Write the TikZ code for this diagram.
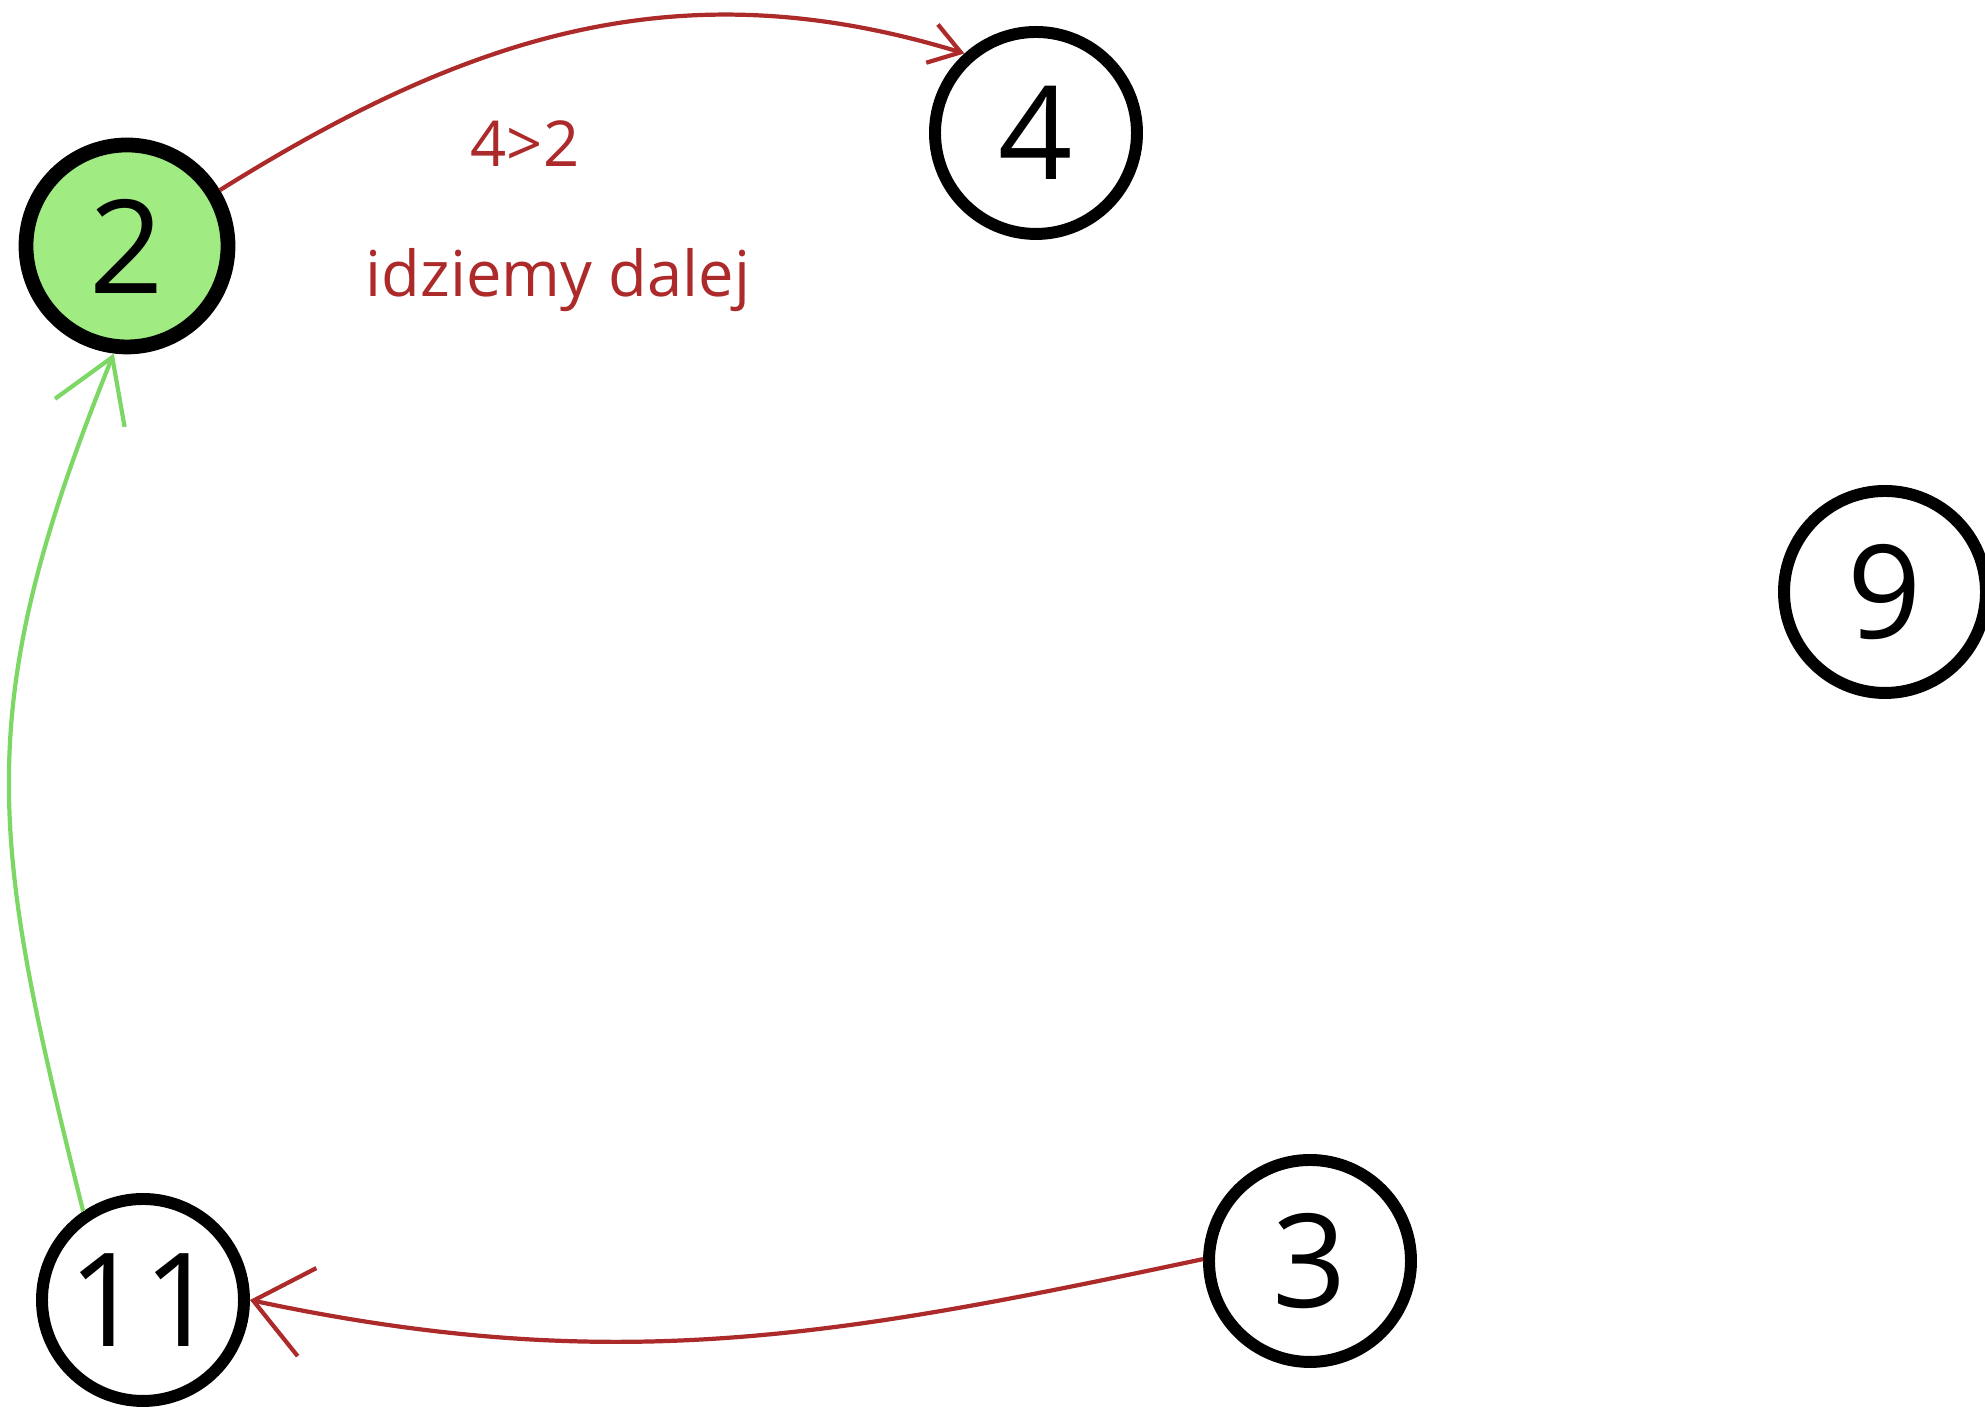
\documentclass[tikz,border=0pt]{standalone}
\usepackage{fontspec}
\setsansfont{Open Sans}
\usetikzlibrary{arrows.meta}
\definecolor{edgered}{RGB}{172,42,42}
\definecolor{edgegreen}{RGB}{125,215,100}
\definecolor{nodegreen}{RGB}{160,236,130}
\tikzset{
  vertex/.style={circle,draw=black,line width=3.4pt,minimum size=2.02cm,inner sep=0pt,
    font=\sffamily\fontsize{37}{40}\selectfont},
  redlink/.style={draw=edgered,line width=1.2pt},
  greenlink/.style={draw=edgegreen,line width=1.2pt},
  note/.style={text=edgered,font=\sffamily\fontsize{18}{21}\selectfont}
}
\begin{document}
\begin{tikzpicture}
\useasboundingbox (0,0) rectangle (19.85,14.07);
\node[vertex,fill=nodegreen,line width=4.2pt] (n2) at (1.27,11.61) {2};
\node[vertex] (n4) at (10.36,12.74) {4};
\node[vertex] (n9) at (18.85,8.15) {9};
\node[vertex] (n3) at (13.10,1.46) {3};
\node[vertex] (n11) at (1.43,1.07) {11};

\draw[redlink,-{Straight Barb[length=0.3cm,width=0.4cm]}] (n2.31) to[out=32,in=163] (n4.132);
\draw[redlink,-{Straight Barb[length=0.55cm,width=0.9cm]}] (n3.179) to[out=192,in=-12] (n11.0);
\draw[greenlink,-{Straight Barb[length=0.6cm,width=0.75cm]}] (n11.124) to[out=104,in=248,looseness=1.15] (n2.263);

\node[note] (cmp) at (5.25,12.63) {4>2};
\node[note] (go) at (5.58,11.27) {idziemy dalej};
\end{tikzpicture}
\end{document}
